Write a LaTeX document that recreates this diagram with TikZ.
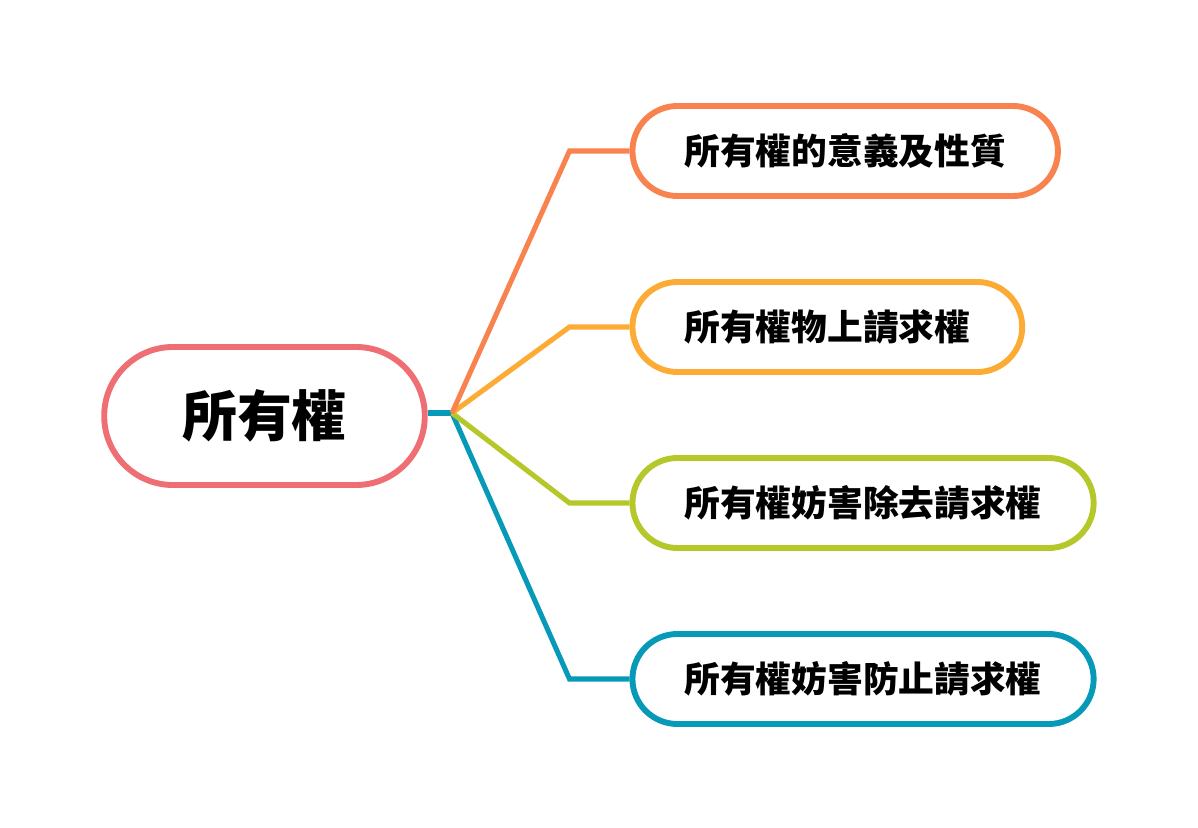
\documentclass[tikz,border=0pt]{standalone}
\usepackage{fontspec}
\newfontfamily\cjk{Noto Sans CJK TC}
\usetikzlibrary{calc}
\definecolor{rootred}{HTML}{EE6E73}
\definecolor{korange}{HTML}{F8834F}
\definecolor{kyellow}{HTML}{FCAB34}
\definecolor{kgreen}{HTML}{B6C72A}
\definecolor{kblue}{HTML}{0799B8}
\tikzset{
  rootbox/.style={draw=rootred, line width=4.2pt, fill=white, rounded corners=1.72cm,
    minimum height=3.45cm, inner xsep=1.95cm, inner ysep=0pt,
    font=\cjk\bfseries\fontsize{39pt}{44pt}\selectfont},
  leafbox/.style={draw=#1, line width=4.2pt, fill=white, rounded corners=1.125cm,
    minimum height=2.25cm, inner xsep=1.3cm, inner ysep=0pt, anchor=west,
    font=\cjk\bfseries\fontsize{25.4pt}{30pt}\selectfont},
  branch/.style={draw=#1, line width=3.6pt, line join=miter},
}
\begin{document}
\begin{tikzpicture}[x=0.025cm, y=-0.025cm]
\useasboundingbox (0,0) rectangle (1198,828);
% root and its four topics
\coordinate (junc) at (452,413);
\node[rootbox] (root) at (264.5,416) {所有權};
\node[leafbox=korange] (k1) at (629.5,151) {所有權的意義及性質};
\node[leafbox=kyellow] (k2) at (629.5,327) {所有權物上請求權};
\node[leafbox=kgreen] (k3) at (629.5,503) {所有權妨害除去請求權};
\node[leafbox=kblue] (k4) at (629.5,679) {所有權妨害防止請求權};
% connectors
\draw[branch=kblue] (root.east |- junc) -- (junc);
\draw[branch=kblue] (junc) -- ([xshift=-1.5cm]k4.west) -- (k4.west);
\draw[branch=kgreen] (junc) -- ([xshift=-1.5cm]k3.west) -- (k3.west);
\draw[branch=kyellow] (junc) -- ([xshift=-1.5cm]k2.west) -- (k2.west);
\draw[branch=korange] (junc) -- ([xshift=-1.5cm]k1.west) -- (k1.west);
\end{tikzpicture}
\end{document}
